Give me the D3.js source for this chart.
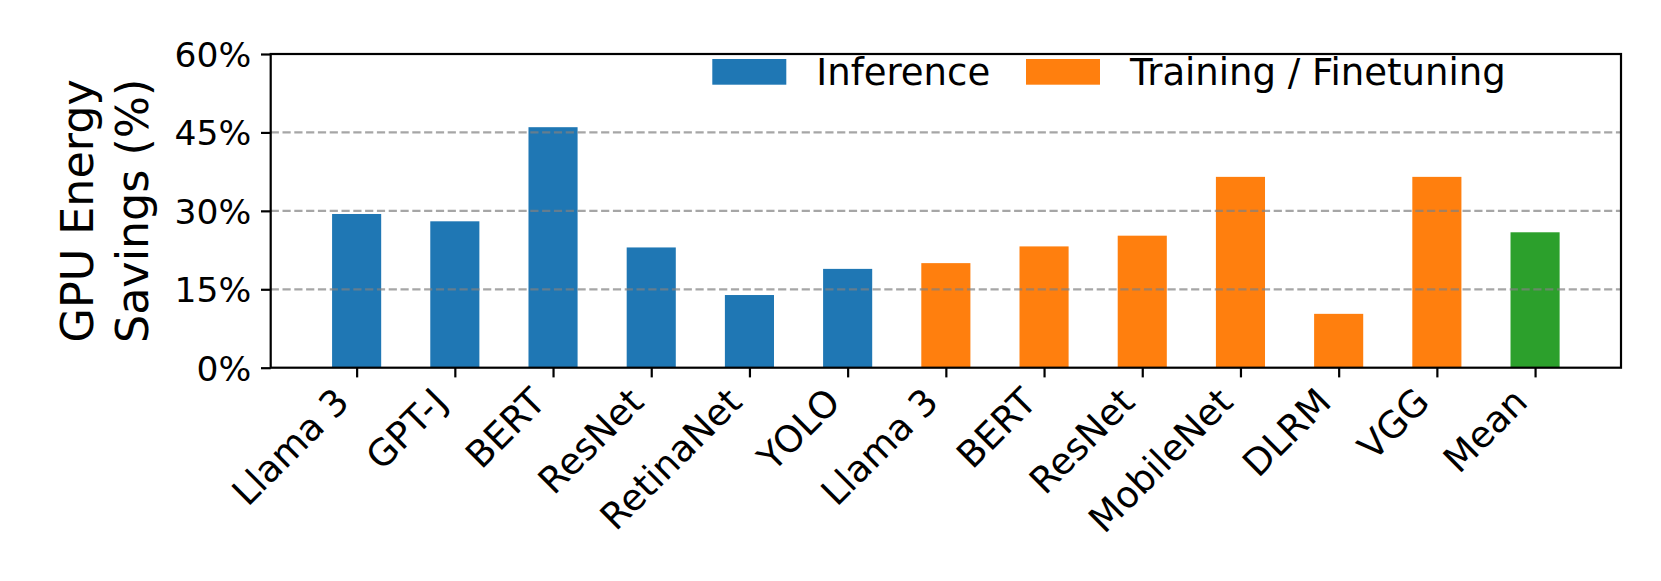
<!DOCTYPE html>
<html>
<head>
<meta charset="utf-8">
<script src="https://cdn.jsdelivr.net/npm/d3@7"></script>
<style>
  html, body { margin: 0; padding: 0; background: #fff; }
  svg { display: block; }
  text { font-family: "DejaVu Sans", sans-serif; fill: #000; }
</style>
</head>
<body>
<svg id="chart" width="1661" height="581"></svg>
<script>
// ---- data ----
const categories = ["Llama 3", "GPT-J", "BERT", "ResNet", "RetinaNet", "YOLO",
                    "Llama 3", "BERT", "ResNet", "MobileNet", "DLRM", "VGG", "Mean"];
const groups = ["Inference", "Inference", "Inference", "Inference", "Inference", "Inference",
                "Training / Finetuning", "Training / Finetuning", "Training / Finetuning",
                "Training / Finetuning", "Training / Finetuning", "Training / Finetuning", "Mean"];
const savings = [29.4, 28.0, 46.0, 23.0, 13.9, 18.9, 20.0, 23.2, 25.25, 36.5, 10.3, 36.5, 25.9];
const yTicks = [0, 15, 30, 45, 60];
const legendItems = ["Inference", "Training / Finetuning"];
const groupColors = {"Inference": "#1f77b4", "Training / Finetuning": "#ff7f0e", "Mean": "#2ca02c"};

// ---- layout ----
const W = 1661, H = 581;
const plot = {left: 270.7, right: 1621, top: 54, bottom: 367.7};
const barWidth = 0.5;
const tickLen = 9.7, tickPad = 9.7, lw = 2.2;

const svg = d3.select("#chart");

const x = d3.scaleLinear()
  .domain([-0.875, categories.length - 1 + 0.875])
  .range([plot.left, plot.right]);
const y = d3.scaleLinear().domain([0, 60]).range([plot.bottom, plot.top]);

// bars
svg.append("g").selectAll("rect")
  .data(savings)
  .join("rect")
  .attr("x", (d, i) => x(i - barWidth / 2))
  .attr("width", (d, i) => x(i + barWidth / 2) - x(i - barWidth / 2))
  .attr("y", d => y(d))
  .attr("height", d => y(0) - y(d))
  .attr("fill", (d, i) => groupColors[groups[i]]);

// grid (drawn above bars)
svg.append("g").selectAll("line")
  .data(yTicks.filter(t => t > 0 && t < 60))
  .join("line")
  .attr("x1", plot.left).attr("x2", plot.right)
  .attr("y1", d => y(d)).attr("y2", d => y(d))
  .attr("stroke", "gray").attr("stroke-opacity", 0.7)
  .attr("stroke-width", lw).attr("stroke-dasharray", "8.2 3.6");

// y axis
const yAxis = svg.append("g")
  .attr("transform", `translate(${plot.left},0)`)
  .call(d3.axisLeft(y).tickValues(yTicks).tickFormat(d => d + "%")
        .tickSize(tickLen).tickPadding(tickPad));
yAxis.select(".domain").remove();
yAxis.selectAll(".tick line").attr("stroke", "#000").attr("stroke-width", lw);
yAxis.selectAll(".tick text")
  .style("font-family", "DejaVu Sans").style("font-size", "34.5px")
  .attr("fill", "#000").attr("dy", "0.36em");

// x axis
const xAxis = svg.append("g")
  .attr("transform", `translate(0,${plot.bottom})`)
  .call(d3.axisBottom(x).tickValues(d3.range(categories.length))
        .tickFormat(i => categories[i]).tickSize(tickLen));
xAxis.select(".domain").remove();
xAxis.selectAll(".tick line").attr("stroke", "#000").attr("stroke-width", lw);
const xfs = 36.7;
xAxis.selectAll(".tick text")
  .style("font-family", "DejaVu Sans").style("font-size", xfs + "px")
  .attr("fill", "#000")
  .attr("text-anchor", "end")
  .attr("dy", null)
  .attr("y", null)
  .attr("transform", `translate(-6,36.3) rotate(-45)`);

// frame
svg.append("rect")
  .attr("x", plot.left).attr("y", plot.top)
  .attr("width", plot.right - plot.left).attr("height", plot.bottom - plot.top)
  .attr("fill", "none").attr("stroke", "#000").attr("stroke-width", lw);

// y label
const ylab = svg.append("g").attr("transform", `translate(0,${(plot.top + plot.bottom) / 2})`);
[["GPU Energy", 92.5], ["Savings (%)", 148]].forEach(([t, bx]) => {
  ylab.append("text")
    .attr("transform", `translate(${bx},0) rotate(-90)`)
    .attr("text-anchor", "middle")
    .style("font-size", "44.4px")
    .text(t);
});

// legend
const legendX = [712.3, 1026];
const lg = svg.append("g");
legendItems.forEach((name, i) => {
  lg.append("rect")
    .attr("x", legendX[i]).attr("y", 59)
    .attr("width", 74).attr("height", 25.7)
    .attr("fill", groupColors[name]);
  lg.append("text")
    .attr("x", legendX[i] + 104).attr("y", 85)
    .style("font-size", "37px")
    .text(name);
});
</script>
</body>
</html>
